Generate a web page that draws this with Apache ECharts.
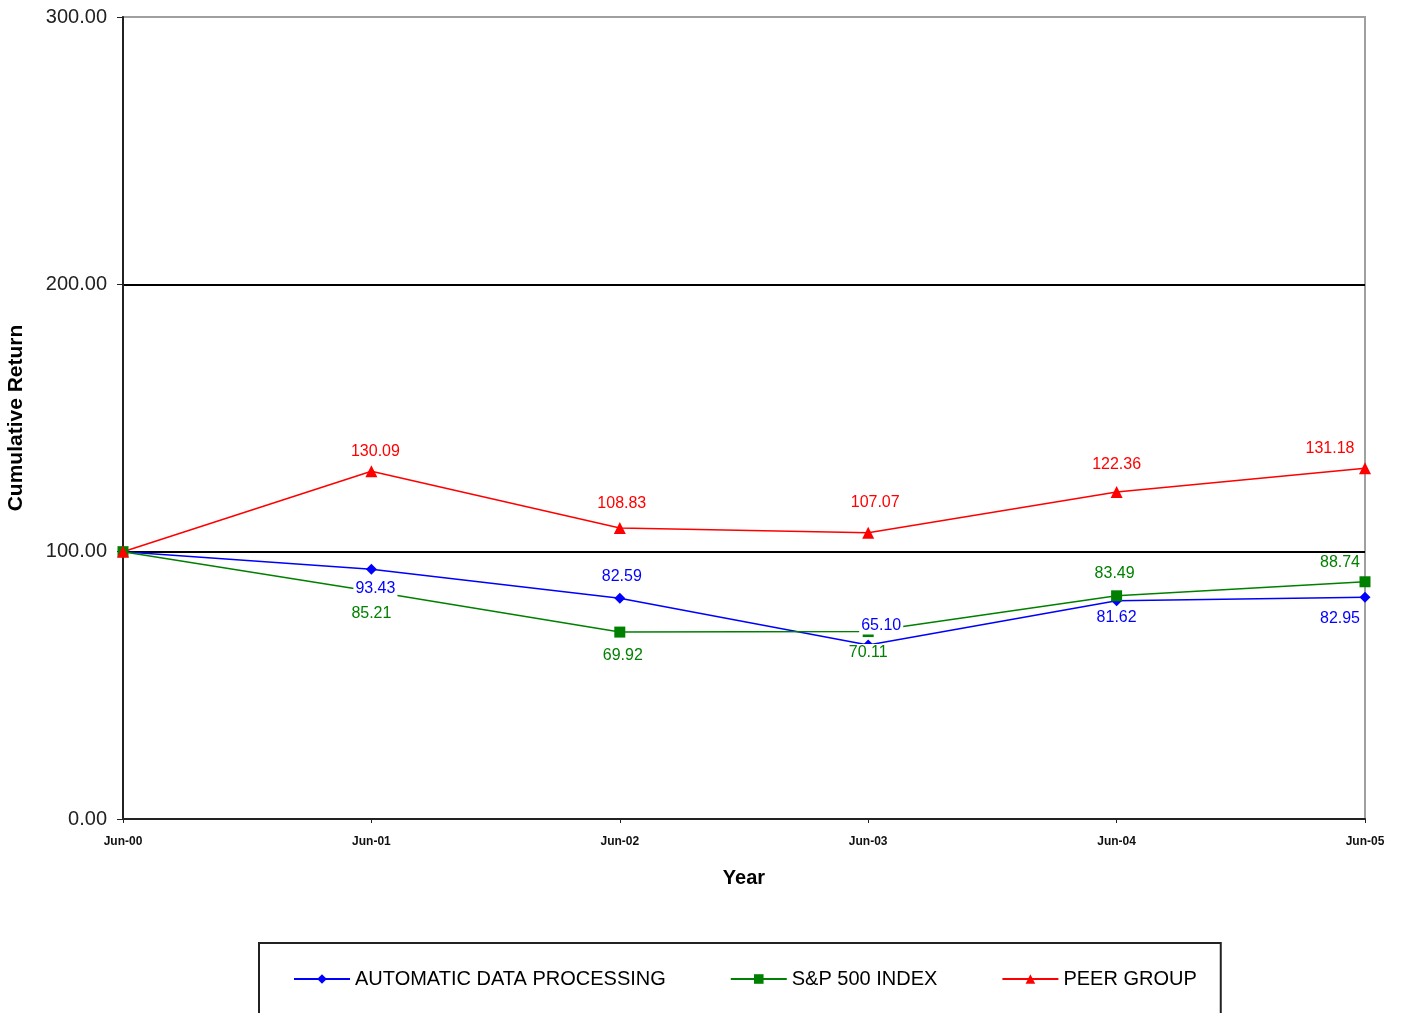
<!DOCTYPE html>
<html>
<head>
<meta charset="utf-8">
<script src="https://cdn.jsdelivr.net/npm/echarts@6/dist/echarts.min.js"></script>
<style>
  html, body { margin: 0; padding: 0; background: #fff; }
  #chart { width: 1403px; height: 1013px; }
</style>
</head>
<body>
<div id="chart"></div>
<script>
// categories / values
const years = ["Jun-00", "Jun-01", "Jun-02", "Jun-03", "Jun-04", "Jun-05"];
const adp = [100, 93.43, 82.59, 65.10, 81.62, 82.95];
const sp500 = [100, 85.21, 69.92, 70.11, 83.49, 88.74];
const peer = [100, 130.09, 108.83, 107.07, 122.36, 131.18];

// where each label sits: [position, dx, dy], null = no label
const labelPos = [
  [null, ["bottom", 4, 0], ["top", 2, -2], ["top", 13, 0], ["bottom", 0, -3], ["bottom", -25, 2]],
  [null, ["bottom", 0, 3], ["bottom", 3, 4], ["bottom", 0, 2], ["top", -2, -3], ["top", -25, 0]],
  [null, ["top", 4, 0], ["top", 2, -4], ["top", 7, -10], ["top", 0, -7], ["top", -35, 0]],
];

const font = "Liberation Sans, Arial, sans-serif";
const chart = echarts.init(document.getElementById("chart"));

// build point list with per-point label setting
const buildData = (values, posList, color) =>
  values.map((v, i) => {
    const p = posList[i];
    if (!p) return { value: v, label: { show: false } };
    return { value: v, label: { show: true, position: p[0], color: color } };
  });

const makeSeries = (name, values, idx, color, symbol, size) => ({
  name: name,
  type: "line",
  data: buildData(values, labelPos[idx], color),
  symbol: symbol,
  symbolSize: size,
  showAllSymbol: true,
  lineStyle: { color: color, width: 1.5 },
  itemStyle: { color: color },
  animation: false,
  label: {
    formatter: (p) => p.value.toFixed(2),
    fontFamily: font,
    fontSize: 16,
    backgroundColor: "#fff",
    padding: [1, 2],
  },
  // nudge each label like in the original
  labelLayout: (params) => {
    const p = labelPos[params.seriesIndex][params.dataIndex];
    if (!p) return {};
    return { dx: p[1], dy: p[2], hideOverlap: false };
  },
});

const option = {
  backgroundColor: "#fff",
  grid: {
    left: 123,
    right: 38,
    top: 17,
    bottom: 194,
    outerBoundsMode: "none",
    containLabel: false,
    show: true,
    borderColor: "#a0a0a0",
    borderWidth: 2,
  },
  legend: {
    top: 943,
    left: 259,
    data: ["AUTOMATIC DATA PROCESSING", "S&P 500 INDEX", "PEER GROUP"],
    padding: [26, 24, 40, 34],
    borderColor: "#222",
    borderWidth: 2,
    itemWidth: 56,
    itemHeight: 12,
    itemGap: 64,
    textStyle: {
      fontFamily: font,
      fontSize: 20,
      color: "#000",
    },
  },
  xAxis: {
    type: "category",
    data: years,
    boundaryGap: false,
    name: "Year",
    nameLocation: "middle",
    nameGap: 49,
    nameTextStyle: {
      fontFamily: font,
      fontSize: 20,
      fontWeight: "bold",
      color: "#000",
    },
    axisLine: { lineStyle: { color: "#222", width: 2 } },
    axisTick: { show: true, length: 4, lineStyle: { color: "#222" } },
    axisLabel: {
      fontFamily: font,
      fontSize: 12,
      fontWeight: "bold",
      color: "#111",
      margin: 17,
    },
  },
  yAxis: {
    type: "value",
    min: 0,
    max: 300,
    interval: 100,
    name: "Cumulative Return",
    nameLocation: "middle",
    nameGap: 96,
    nameTextStyle: {
      fontFamily: font,
      fontSize: 21,
      fontWeight: "bold",
      color: "#000",
    },
    axisLine: { show: true, lineStyle: { color: "#222", width: 2 } },
    axisTick: { show: true, length: 6, lineStyle: { color: "#222" } },
    axisLabel: {
      formatter: (v) => v.toFixed(2),
      fontFamily: font,
      fontSize: 20,
      color: "#222",
      margin: 16,
    },
    splitLine: {
      show: true,
      lineStyle: { color: ["#000", "#000", "#000", "#a0a0a0"], width: 2 },
    },
  },
  series: [
    makeSeries("AUTOMATIC DATA PROCESSING", adp, 0, "#0000ff", "diamond", 11),
    makeSeries("S&P 500 INDEX", sp500, 1, "#008000", "rect", 11),
    makeSeries("PEER GROUP", peer, 2, "#ff0000", "triangle", 12),
  ],
};

chart.setOption(option);
</script>
</body>
</html>
